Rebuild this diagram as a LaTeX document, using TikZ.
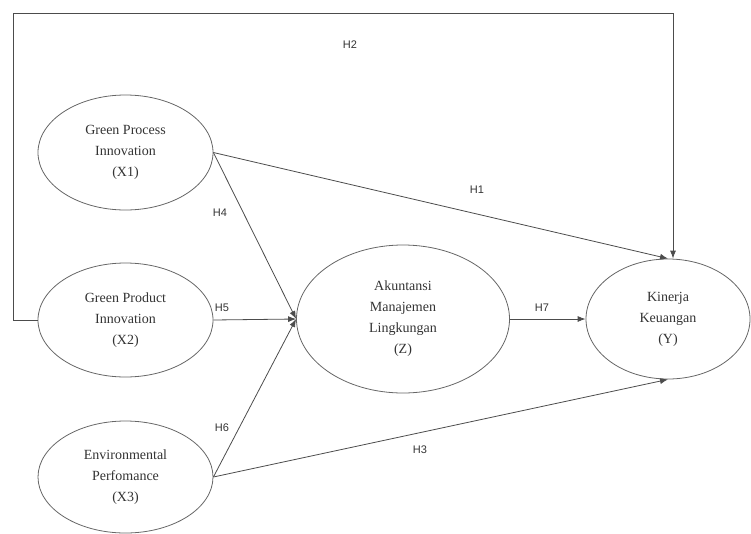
\documentclass[tikz,border=0pt]{standalone}
\usepackage{fontspec}
\setmainfont{Liberation Serif}
\newfontfamily\labfont{Liberation Sans}
\usetikzlibrary{shapes.geometric,arrows.meta}
\begin{document}
\begin{tikzpicture}[x=1pt,y=-1pt,
  var/.style={ellipse,draw=black!60,line width=0.8pt,inner sep=0pt,align=center,
    font=\fontsize{14}{21}\selectfont,text=black!80},
  conn/.style={draw=black!70,line width=0.8pt},
  arr/.style={conn,-{Latex[length=8pt,width=6pt]}},
  hlab/.style={font=\labfont\fontsize{11}{13}\selectfont,text=black!80}]
\useasboundingbox (0,0) rectangle (751,533);
\node[var,minimum width=175pt,minimum height=115pt] (X1) at (125.5,152.5) {Green Process\\Innovation\\(X1)};
\node[var,minimum width=175pt,minimum height=114pt] (X2) at (125.5,320) {Green Product\\Innovation\\(X2)};
\node[var,minimum width=175pt,minimum height=112pt] (X3) at (125.5,477) {Environmental\\Perfomance\\(X3)};
\node[var,minimum width=213pt,minimum height=148pt] (Z) at (403,319) {Akuntansi\\Manajemen\\Lingkungan\\(Z)};
\node[var,minimum width=164pt,minimum height=120pt] (Y) at (668,319) {Kinerja\\Keuangan\\(Y)};
\coordinate (tl) at (13,13);
\coordinate (tr) at (673,13);
% connectors
\draw[arr] (X2.west) -| (tl) -- (tr) -- (tr |- Y.north);
\draw[arr] (X1.east) -- (Y.north);
\draw[arr] (X1.east) -- (Z.west);
\draw[arr] (X2.east) -- (Z.west);
\draw[arr] (X3.east) -- (Z.west);
\draw[arr] (X3.east) -- (Y.south);
\draw[arr] (Z.east) -- (Y.west);
% labels
\node[hlab] (h2) at (350,45) {H2};
\node[hlab] (h1) at (477,190) {H1};
\node[hlab] (h4) at (220,213) {H4};
\node[hlab] (h5) at (222,308) {H5};
\node[hlab] (h6) at (222,428) {H6};
\node[hlab] (h3) at (420,450) {H3};
\node[hlab] (h7) at (542,308) {H7};
\end{tikzpicture}
\end{document}
